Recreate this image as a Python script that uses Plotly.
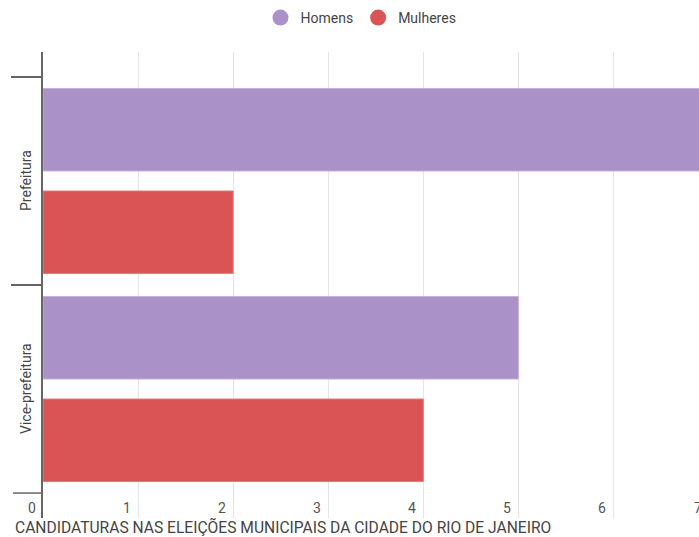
import plotly.graph_objects as go

# Data
categories = ["Prefeitura", "Vice-prefeitura"]
series_names = ["Homens", "Mulheres"]
homens = [7, 5]
mulheres = [2, 4]
x_ticks = [0, 1, 2, 3, 4, 5, 6, 7]
caption = "CANDIDATURAS NAS ELEIÇÕES MUNICIPAIS DA CIDADE DO RIO DE JANEIRO"

colors = {"Homens": "#aa91c8", "Mulheres": "#db5455"}
edge = {"Homens": "#c2b0da", "Mulheres": "#e67a7a"}
values = {"Homens": homens, "Mulheres": mulheres}

W, H = 699, 537
ML, MR, MT, MB = 43, 0, 52, 19
plot_w = W - ML - MR
plot_h = H - MT - MB
x_max = 6.9
tick_len = 30

fig = go.Figure()
for name in series_names:
    fig.add_trace(go.Bar(
        y=categories, x=values[name], orientation="h", name=name,
        marker=dict(color=colors[name], line=dict(color=edge[name], width=1)),
        showlegend=False, hoverinfo="x+name",
    ))
    # circle swatch for the legend
    fig.add_trace(go.Scatter(
        x=[None], y=[None], mode="markers", name=name,
        marker=dict(symbol="circle", size=16, color=colors[name]),
    ))

annotations = []
# x tick labels, sitting just left of each gridline
for v in x_ticks:
    annotations.append(dict(
        x=v / x_max, y=10 / plot_h, xref="paper", yref="paper",
        text=str(v), showarrow=False, xanchor="right", yanchor="middle",
        xshift=-5, font=dict(size=14, color="#555555"),
    ))
# category labels, rotated
for c in categories:
    annotations.append(dict(
        x=(26 - ML) / plot_w, y=c, xref="paper", yref="y",
        text=c, showarrow=False, textangle=-90, xanchor="center", yanchor="middle",
        font=dict(size=14, color="#444444"),
    ))
annotations.append(dict(
    x=(13 - ML) / plot_w, y=-9 / plot_h, xref="paper", yref="paper",
    text=caption, showarrow=False, xanchor="left", yanchor="middle",
    font=dict(size=15.6, color="#444444"),
))

# closing boundary tick below the last category
shapes = [dict(
    type="line", xref="paper", yref="y",
    x0=-tick_len / plot_w, x1=0, y0=len(categories) - 0.5, y1=len(categories) - 0.5,
    line=dict(color="#666666", width=1.5),
)]

fig.update_layout(
    width=W, height=H,
    margin=dict(l=ML, r=MR, t=MT, b=MB, pad=0),
    paper_bgcolor="white", plot_bgcolor="white",
    font=dict(family="Roboto", size=14, color="#444444"),
    barmode="group", bargap=0.015, bargroupgap=0.195,
    showlegend=True,
    legend=dict(orientation="h", xref="container", yref="container",
                x=361 / W, xanchor="center", y=1 - 2 / H, yanchor="top",
                font=dict(size=14, color="#444444"), traceorder="normal"),
    annotations=annotations,
    shapes=shapes,
    xaxis=dict(range=[0, x_max], dtick=1, tick0=0, showgrid=True,
               gridcolor="#e4e4e4", gridwidth=1, zeroline=False,
               showticklabels=False, showline=False, fixedrange=True),
    yaxis=dict(type="category", categoryorder="array", categoryarray=categories,
               range=[1.62, -0.62], showgrid=False, zeroline=False,
               showline=True, linecolor="#666666", linewidth=2,
               ticks="outside", tickson="boundaries", ticklen=tick_len,
               tickcolor="#666666", tickwidth=1.5, showticklabels=False,
               fixedrange=True),
)

fig.write_html("out.html")
